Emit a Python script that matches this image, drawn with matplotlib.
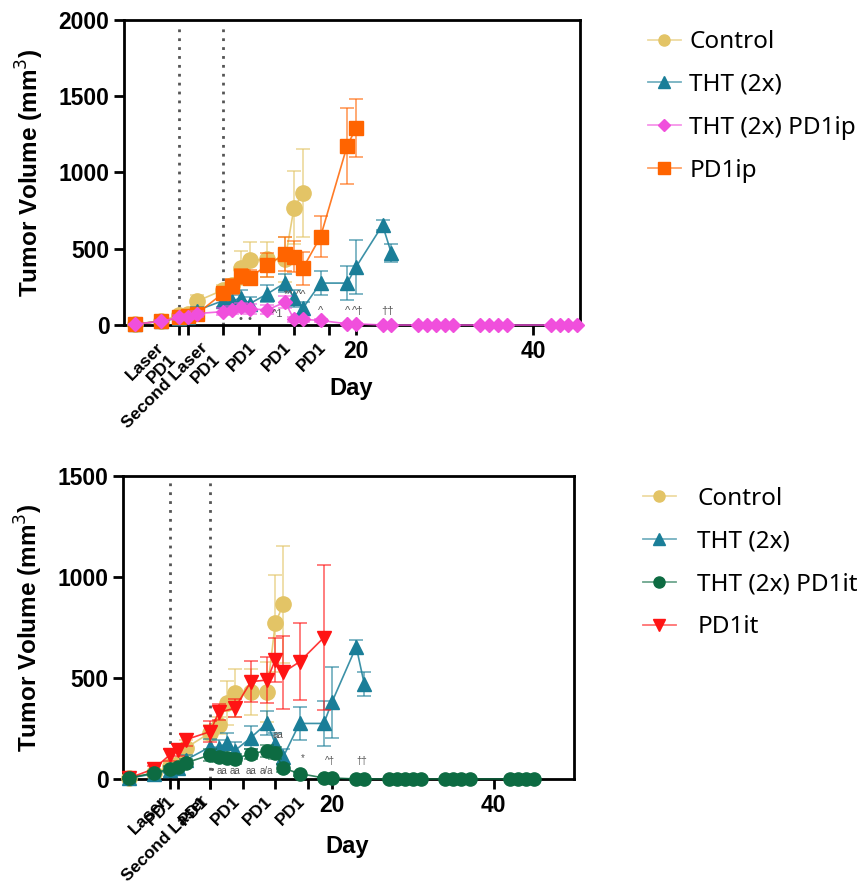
import matplotlib
matplotlib.use("Agg")
import matplotlib.pyplot as plt
from matplotlib.lines import Line2D
from matplotlib.colors import to_rgba

plt.rcParams['font.family'] = ['Liberation Sans', 'DejaVu Sans']

# --- data ---
ctrl_day = [-5, -2, 0, 1, 2, 5, 6, 7, 8, 10, 12, 13, 14]
ctrl_vol = [5, 28, 65, 75, 155, 230, 265, 375, 425, 430, 430, 770, 865]
ctrl_err = [3, 8, 20, 20, 40, 35, 40, 110, 120, 115, 150, 240, 290]

tht_day = [-5, -2, 0, 1, 2, 5, 6, 7, 8, 10, 12, 13, 14, 16, 19, 20, 23, 24]
tht_vol = [5, 25, 45, 55, 95, 160, 155, 180, 140, 205, 277, 175, 110, 275, 275, 380, 655, 470]
tht_err = [3, 8, 15, 15, 25, 40, 40, 50, 45, 55, 60, 55, 40, 80, 110, 175, 35, 60]

combo_day = [-5, -2, 0, 1, 2, 5, 6, 7, 8, 10, 12, 13, 14, 16, 19, 20, 23, 24,
             27, 28, 29, 30, 31, 34, 35, 36, 37, 42, 43, 44, 45]
ip_combo_vol = [5, 25, 50, 55, 75, 88, 100, 115, 105, 100, 150, 37, 37, 30, 8, 8, 0, 0,
                0, 0, 0, 0, 0, 0, 0, 0, 0, 0, 0, 0, 0]
ip_combo_err = [3, 8, 15, 15, 20, 25, 25, 30, 30, 30, 40, 15, 15, 10, 3, 3, 0, 0,
                0, 0, 0, 0, 0, 0, 0, 0, 0, 0, 0, 0, 0]
it_combo_vol = [5, 30, 50, 60, 80, 120, 110, 105, 100, 125, 140, 130, 53, 27, 5, 5, 0, 0,
                0, 0, 0, 0, 0, 0, 0, 0, 0, 0, 0, 0, 0]
it_combo_err = [3, 8, 15, 15, 20, 30, 25, 25, 25, 25, 30, 30, 20, 10, 3, 3, 0, 0,
                0, 0, 0, 0, 0, 0, 0, 0, 0, 0, 0, 0, 0]

ip_day = [-5, -2, 0, 1, 2, 5, 6, 7, 8, 10, 12, 13, 14, 16, 19, 20]
ip_vol = [5, 25, 50, 60, 72, 210, 255, 320, 310, 395, 465, 448, 372, 580, 1175, 1290]
ip_err = [3, 8, 15, 15, 20, 40, 50, 50, 50, 80, 110, 100, 110, 135, 250, 190]

it_day = [-5, -2, 0, 1, 2, 5, 6, 8, 10, 12, 13, 14, 16, 19]
it_vol = [5, 50, 120, 145, 195, 235, 330, 350, 482, 490, 590, 528, 580, 700]
it_err = [3, 15, 30, 30, 30, 50, 40, 45, 100, 115, 110, 180, 190, 360]

top_ticks = [0, 1, 5, 9, 13, 17, 20, 40]
top_ticklabels = ['Laser\nPD1', '', 'Second Laser\nPD1', 'PD1', 'PD1', 'PD1', '20', '40']
top_minor = []
top_minorlabels = []
bot_ticks = [0, 1, 5, 9, 13, 17, 20, 40]
bot_ticklabels = ['Laser', 'PD1', 'PD1', 'PD1', 'PD1', 'PD1', '20', '40']
bot_minor = [5]
bot_minorlabels = ['Second Laser']
laser_days = [0, 5]

C_CTRL = '#E3C466'
C_THT = '#1A7E98'
C_PINK = '#F04FDC'
C_ORANGE = '#FF6400'
C_GREEN = '#0D6B42'
C_RED = '#FF1414'


def series(ax, x, y, err, color, marker, ms, z):
    ax.errorbar(x, y, yerr=err, color=to_rgba(color, 0.85), marker=marker, ms=ms,
                mfc=color, mec=color, lw=1.2, ecolor=to_rgba(color, 0.55),
                elinewidth=1.4, capsize=5, capthick=1.4, zorder=z, clip_on=False)


def rot_labels(labels, texts):
    for lab, txt in zip(labels, texts):
        lab.set_fontweight('bold')
        if txt in ('20', '40'):
            lab.set_fontsize(16.5)
        else:
            lab.set_fontsize(12.5)
            lab.set_rotation(45)
            lab.set_ha('right')


def style_axis(ax, ymax, ticks, labels, minor, minorlabels, xlim, xlab_y):
    ax.set_ylim(0, ymax)
    ax.set_xlim(*xlim)
    ax.set_yticks(range(0, ymax + 1, 500))
    ax.set_yticklabels([str(v) for v in range(0, ymax + 1, 500)],
                       fontsize=16.5, fontweight='bold')
    for s in ax.spines.values():
        s.set_linewidth(2)
    ax.tick_params(width=2, length=7)
    ax.set_xticks(ticks)
    ax.set_xticklabels(labels)
    rot_labels(ax.get_xticklabels(), labels)
    if minor:
        ax.xaxis.remove_overlapping_locs = False
        ax.set_xticks(minor, minor=True)
        ax.set_xticklabels(minorlabels, minor=True)
        ax.tick_params(axis='x', which='minor', width=2, length=7)
        rot_labels(ax.get_xticklabels(minor=True), minorlabels)
    for d in laser_days:
        ax.plot([d, d], [0, ymax * 0.985], color='#555555', lw=2,
                ls=(0, (1, 2.2)), zorder=1)
    ax.set_ylabel('Tumor Volume (mm$^3$)', fontsize=17.5, fontweight='bold')
    ax.yaxis.set_label_coords(-0.172, 0.5)
    ax.set_xlabel('Day', fontsize=17, fontweight='bold')
    ax.xaxis.set_label_coords(0.497, xlab_y)


def legend(fig, entries, anchor, textpad):
    handles = [Line2D([], [], color=to_rgba(c, 0.6), lw=1.3, marker=m, ms=ms,
                      mfc=c, mec=c) for c, m, ms in entries[1]]
    fig.legend(handles, entries[0], loc='upper left', bbox_to_anchor=anchor,
               frameon=False, prop={'family': 'Noto Sans', 'size': 17.5},
               handlelength=1.35, handletextpad=textpad, labelspacing=0.78,
               borderpad=0, borderaxespad=0)


fig = plt.figure(figsize=(8.65, 8.83), dpi=100)

# top panel: PD1 intraperitoneal
ax1 = fig.add_axes([0.1434, 0.6319, 0.5271, 0.3455])
series(ax1, ctrl_day, ctrl_vol, ctrl_err, C_CTRL, 'o', 11, 3)
series(ax1, tht_day, tht_vol, tht_err, C_THT, '^', 10, 4)
series(ax1, ip_day, ip_vol, ip_err, C_ORANGE, 's', 10.5, 5)
series(ax1, combo_day, ip_combo_vol, ip_combo_err, C_PINK, 'D', 7, 6)
style_axis(ax1, 2000, top_ticks, top_ticklabels, top_minor, top_minorlabels,
           (-6.2, 45.3), -0.17)
for x, y, s in [(16, 95, '^'), (19.1, 90, '^'), (20.2, 90, '^†'), (23.5, 90, '††'),
                (7, 40, '•'), (8, 40, '•'), (12.4, 200, '*^'), (13.8, 200, '^^'),
                (11.1, 70, '^1')]:
    ax1.text(x, y, s, fontsize=8, color='#555555', ha='center', va='center', zorder=7)

legend(fig, (['Control', 'THT (2x)', 'THT (2x) PD1ip', 'PD1ip'],
             [(C_CTRL, 'o', 8), (C_THT, '^', 8), (C_PINK, 'D', 6), (C_ORANGE, 's', 8)]),
       (0.749, 0.966), 0.35)

# bottom panel: PD1 intratumoral
ax2 = fig.add_axes([0.1422, 0.1178, 0.5214, 0.3431])
series(ax2, ctrl_day, ctrl_vol, ctrl_err, C_CTRL, 'o', 11, 3)
series(ax2, tht_day, tht_vol, tht_err, C_THT, '^', 10, 4)
series(ax2, it_day, it_vol, it_err, C_RED, 'v', 10, 5)
series(ax2, combo_day, it_combo_vol, it_combo_err, C_GREEN, 'o', 9.5, 6)
style_axis(ax2, 1500, bot_ticks, bot_ticklabels, bot_minor, bot_minorlabels,
           (-5.8, 49.9), -0.185)
for x, y, s in [(5.2, 45, '•'), (6.4, 40, 'aa'), (8.0, 40, 'aa'), (10.0, 40, 'aa'),
                (11.9, 40, 'a/a'), (16.4, 105, '*'), (19.7, 90, '^†'), (23.7, 90, '††'),
                (13.4, 220, 'aa')]:
    ax2.text(x, y, s, fontsize=7, color='#555555', ha='center', va='center', zorder=7)

legend(fig, (['Control', 'THT (2x)', 'THT (2x) PD1it', 'PD1it'],
             [(C_CTRL, 'o', 8), (C_THT, '^', 8), (C_GREEN, 'o', 8), (C_RED, 'v', 8)]),
       (0.743, 0.449), 0.9)

fig.savefig('out.png', dpi=100)
